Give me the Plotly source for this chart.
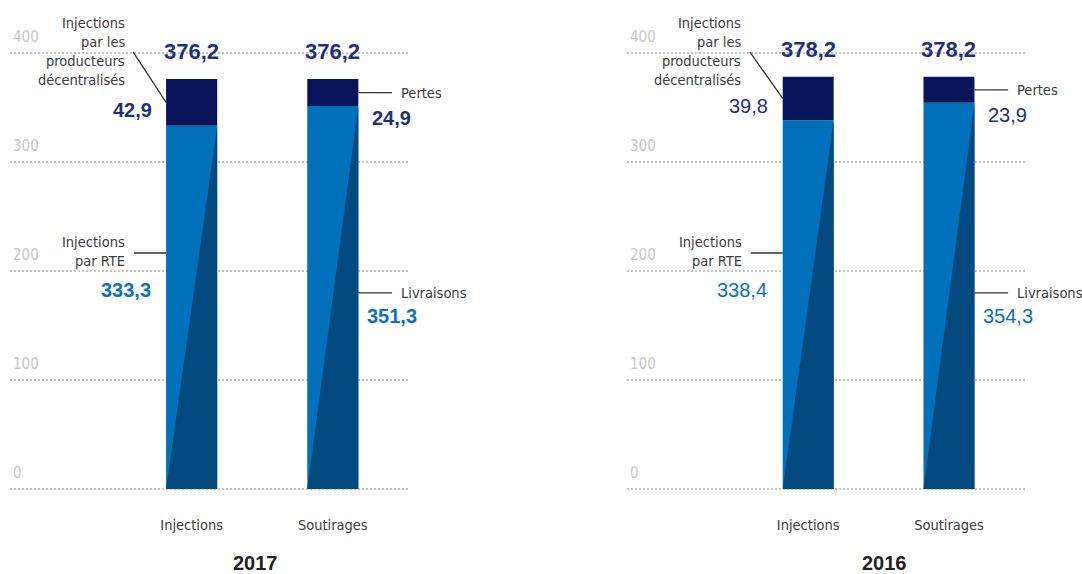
import plotly.graph_objects as go

# Bilan énergétique (TWh) : injections et soutirages, par année
years = ["2017", "2016"]
categories = ["Injections", "Soutirages"]
injections_rte = [333.3, 338.4]
injections_decentralisees = [42.9, 39.8]
livraisons = [351.3, 354.3]
pertes = [24.9, 23.9]
totaux = [376.2, 378.2]
y_ticks = [0, 100, 200, 300, 400]

WORD_FONT = "DejaVu Sans Condensed, Liberation Sans, sans-serif"
NUM_FONT = "Liberation Sans, Arial, sans-serif"
BLUE = "#0070BA"
DARK = "#034A80"
NAVY = "#08145A"
TXT_NAVY = "#1F3082"
TXT_BLUE = "#0B72C2"
TXT = "#3C3C3C"
GRID = "#C4C4C4"
LEADER = "#333333"

W = 0.362          # largeur des barres (unités de catégorie)
X = [0, 1]         # positions des deux barres
LINE_H = 19        # interligne des étiquettes (px)
WORD_SIZE = 14.5


def fmt(v):
    return f"{v:.1f}".replace(".", ",")


fig = go.Figure()
annotations = []
shapes = []
domains = [(10 / 1082, 410 / 1082), (627 / 1082, 1026 / 1082)]
year_x = [255 / 1082, 884 / 1082]

for i, year in enumerate(years):
    sfx = "" if i == 0 else str(i + 1)
    xa, ya = "x" + sfx, "y" + sfx
    lower = [injections_rte[i], livraisons[i]]
    upper = [injections_decentralisees[i], pertes[i]]
    bold = i == 0

    fig.add_bar(x=X, y=lower, width=W, marker=dict(color=BLUE, line_width=0),
                xaxis=xa, yaxis=ya, hoverinfo="skip")
    fig.add_bar(x=X, y=upper, base=lower, width=W, marker=dict(color=NAVY, line_width=0),
                xaxis=xa, yaxis=ya, hoverinfo="skip")
    # ombrage diagonal de la partie basse de chaque barre
    for xc, v in zip(X, lower):
        fig.add_scatter(x=[xc - W / 2, xc + W / 2, xc + W / 2, xc - W / 2],
                        y=[0, 0, v, 0], mode="lines", fill="toself",
                        fillcolor=DARK, line=dict(width=0, color=DARK),
                        xaxis=xa, yaxis=ya, hoverinfo="skip")

    def ann(x, y, text, size=WORD_SIZE, color=TXT, xanchor="center", yshift=0,
            xref=xa, yref=ya, family=WORD_FONT):
        annotations.append(dict(x=x, y=y, xref=xref, yref=yref, text=text, showarrow=False,
                                xanchor=xanchor, yanchor="middle", yshift=yshift,
                                font=dict(family=family, size=size, color=color)))

    def seg(x0, y0, x1, y1):
        shapes.append(dict(type="line", xref=xa, yref=ya, x0=x0, y0=y0, x1=x1, y1=y1,
                           line=dict(color=LEADER, width=1.3)))

    def val(v):
        return f"<b>{fmt(v)}</b>" if bold else fmt(v)

    # totaux au-dessus des barres
    for xc in X:
        ann(xc, totaux[i], f"<b>{fmt(totaux[i])}</b>", size=22, color=TXT_NAVY,
            yshift=27, family=NUM_FONT)

    # Injections décentralisées (bloc ancré sur la graduation 400)
    mid_inj = lower[0] + upper[0] / 2
    for k, line in enumerate(["Injections", "par les", "producteurs", "décentralisés"]):
        ann(-0.46, 400, line, xanchor="right", yshift=30 - LINE_H * k)
    seg(-0.415, 401, -W / 2, mid_inj)
    ann(-0.27, mid_inj - 7, val(upper[0]), size=20, color=TXT_NAVY, xanchor="right",
        family=NUM_FONT)

    # Injections par RTE
    for k, line in enumerate(["Injections", "par RTE"]):
        ann(-0.457, 226.6, line, xanchor="right", yshift=-LINE_H * k)
    seg(-0.408, 216.5, -W / 2, 216.5)
    ann(-0.275, 183, val(lower[0]), size=20, color=TXT_BLUE, xanchor="right",
        family=NUM_FONT)

    # Pertes
    mid_s = lower[1] + upper[1] / 2
    seg(1 + W / 2, mid_s, 1.42, mid_s)
    ann(1.468, mid_s, "Pertes", xanchor="left")
    ann(1.266, mid_s - 23, val(upper[1]), size=20, color=TXT_NAVY, xanchor="left",
        family=NUM_FONT)

    # Livraisons
    seg(1 + W / 2, 180, 1.42, 180)
    ann(1.466, 180, "Livraisons", xanchor="left")
    ann(1.23, 159, val(lower[1]), size=20, color=TXT_BLUE, xanchor="left",
        family=NUM_FONT)

    # année
    ann(year_x[i], 0.0195, f"<b>{year}</b>", size=20, color="#222222",
        xref="paper", yref="paper", family=NUM_FONT)

    fig.layout["xaxis" + sfx] = dict(
        domain=list(domains[i]), range=[-1.287, 1.547], anchor=ya,
        tickvals=X, ticktext=categories, showgrid=False, zeroline=False,
        showline=False, ticks="outside", ticklen=12, tickcolor="rgba(0,0,0,0)",
        tickfont=dict(family=WORD_FONT, size=WORD_SIZE, color=TXT), fixedrange=True)
    fig.layout["yaxis" + sfx] = dict(
        domain=[0.1291, 0.9551], range=[-10, 425], anchor=xa,
        tickvals=y_ticks, showgrid=True, gridcolor=GRID, griddash="2px,2px",
        gridwidth=2, zeroline=False, showline=False,
        ticklabelposition="inside top", ticklabelshift=-6,
        tickfont=dict(family=WORD_FONT, size=15, color="#C8C8C8"), fixedrange=True)

fig.update_layout(
    width=1082, height=574, margin=dict(l=0, r=0, t=0, b=0),
    barmode="overlay", showlegend=False,
    plot_bgcolor="white", paper_bgcolor="white",
    annotations=annotations, shapes=shapes,
)

fig.write_html("out.html", config={"displayModeBar": False})
